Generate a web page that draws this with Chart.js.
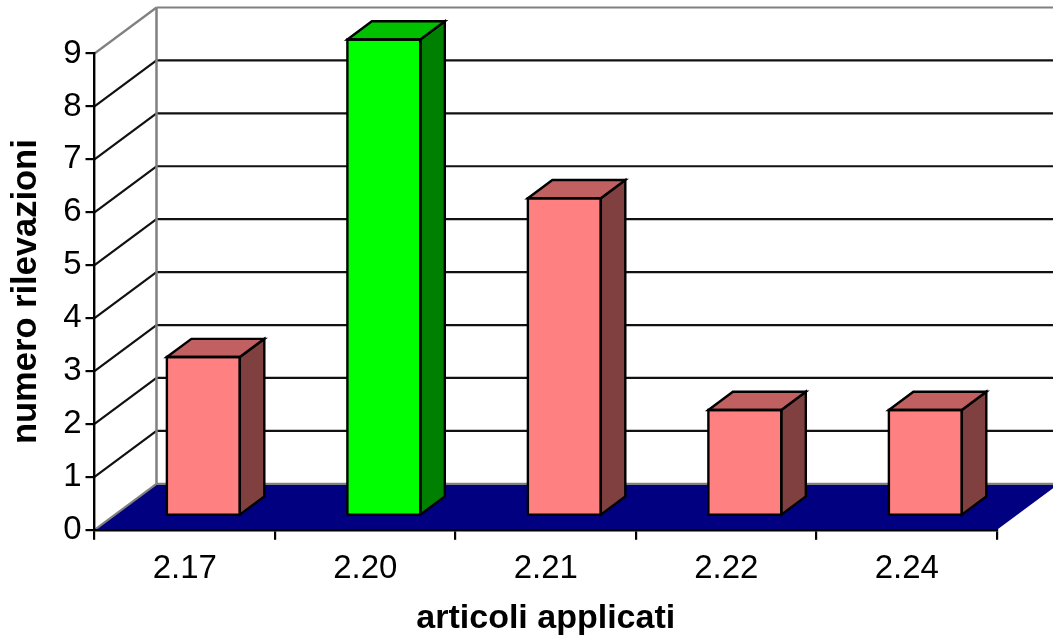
<!DOCTYPE html>
<html><head><meta charset="utf-8">
<style>html,body{margin:0;padding:0;background:#fff}canvas{display:block}</style>
<script src="https://cdn.jsdelivr.net/npm/chart.js@4"></script>
</head><body><canvas id="c" width="1053" height="639"></canvas>
<script>
const categories = ["2.17","2.20","2.21","2.22","2.24"];
const values = [3,9,6,2,2];
const yTicks = [0,1,2,3,4,5,6,7,8,9];
const frontColors = ["#FF8080","#00FF00","#FF8080","#FF8080","#FF8080"];
const sideColors = ["#804040","#008000","#804040","#804040","#804040"];
const topColors = ["#C06060","#00C000","#C06060","#C06060","#C06060"];
const FONT = '"Liberation Sans", Arial, sans-serif';
const WALL = {dx:62, dy:-46};
const BAR = {dx:18.6, dy:-14, depthX:24.5, depthY:-18.2};

function poly(ctx, pts, fill, stroke, lw){
  ctx.beginPath();
  pts.forEach((p,i)=> i ? ctx.lineTo(p[0],p[1]) : ctx.moveTo(p[0],p[1]));
  ctx.closePath();
  if(fill){ctx.fillStyle=fill;ctx.fill();}
  if(stroke){ctx.strokeStyle=stroke;ctx.lineWidth=lw;ctx.lineJoin='miter';ctx.stroke();}
}
function seg(ctx,x1,y1,x2,y2,c,w){ctx.beginPath();ctx.moveTo(x1,y1);ctx.lineTo(x2,y2);ctx.strokeStyle=c;ctx.lineWidth=w;ctx.stroke();}

const box3d = {
  id:'box3d',
  beforeDraw(chart){
    const {ctx,chartArea:a,scales:{y}} = chart;
    const x0=a.left, x1=a.right, X0=x0+WALL.dx, X1=x1+WALL.dx;
    ctx.save();
    const y0=y.getPixelForValue(0);
    poly(ctx,[[x0,y0],[X0,y0+WALL.dy],[X1,y0+WALL.dy],[x1,y0]],'#000080');
    yTicks.forEach(v=>{
      const p=y.getPixelForValue(v), edge=(v===0||v===yTicks[yTicks.length-1]);
      const c=edge?'#808080':'#111111';
      seg(ctx,x0,p,X0,p+WALL.dy,c,2.2);
      seg(ctx,X0,p+WALL.dy,X1,p+WALL.dy,c,2.2);
    });
    seg(ctx,X0,y.getPixelForValue(yTicks[yTicks.length-1])+WALL.dy,X0,y0+WALL.dy,'#808080',2.5);
    ctx.restore();
  },
  beforeDatasetsDraw(chart){
    chart.ctx.save();
    chart.ctx.translate(BAR.dx,BAR.dy);
  },
  afterDatasetsDraw(chart){
    const ctx=chart.ctx;
    const meta=chart.getDatasetMeta(0);
    meta.data.forEach((el,i)=>{
      const p=el.getProps(['x','y','base','width'],true);
      const l=p.x-p.width/2, r=p.x+p.width/2, t=p.y, b=p.base;
      const dx=BAR.depthX, dy=BAR.depthY;
      poly(ctx,[[r,t],[r+dx,t+dy],[r+dx,b+dy],[r,b]],sideColors[i],'#000',2.4);
      poly(ctx,[[l,t],[l+dx,t+dy],[r+dx,t+dy],[r,t]],topColors[i],'#000',2.4);
      poly(ctx,[[l,t],[r,t],[r,b],[l,b]],null,'#000',2.4);
    });
    ctx.restore();
  }
};

new Chart(document.getElementById('c'),{
  type:'bar',
  data:{labels:categories,datasets:[{
    data:values,
    backgroundColor:frontColors,
    borderWidth:0,
    categoryPercentage:1,
    barPercentage:0.404,
    clip:false
  }]},
  plugins:[box3d],
  options:{
    responsive:false,
    animation:false,
    devicePixelRatio:1,
    events:[],
    layout:{padding:{left:0,right:56,top:53.5,bottom:0}},
    plugins:{legend:{display:false},tooltip:{enabled:false}},
    scales:{
      x:{
        afterFit(s){s.height=109.2;},
        grid:{drawOnChartArea:false,color:'#000',lineWidth:2.2,tickLength:10,offset:true},
        border:{color:'#000',width:2.4},
        ticks:{color:'#000',font:{family:FONT,size:33},padding:9,maxRotation:0},
        title:{display:true,text:'articoli applicati',color:'#000',font:{family:FONT,size:34,weight:'bold'},padding:{top:2,bottom:0}}
      },
      y:{
        min:0,max:9,
        afterFit(s){s.width=94.5;},
        afterBuildTicks(s){s.ticks=yTicks.map(v=>({value:v}));},
        grid:{drawOnChartArea:false,color:'#000',lineWidth:2.2,tickLength:9},
        border:{color:'#000',width:2.4},
        ticks:{color:'#000',font:{family:FONT,size:33},padding:4},
        title:{display:true,text:'numero rilevazioni',color:'#000',font:{family:FONT,size:34.5,weight:'bold'},padding:{top:6,bottom:0}}
      }
    }
  }
});
</script></body></html>
